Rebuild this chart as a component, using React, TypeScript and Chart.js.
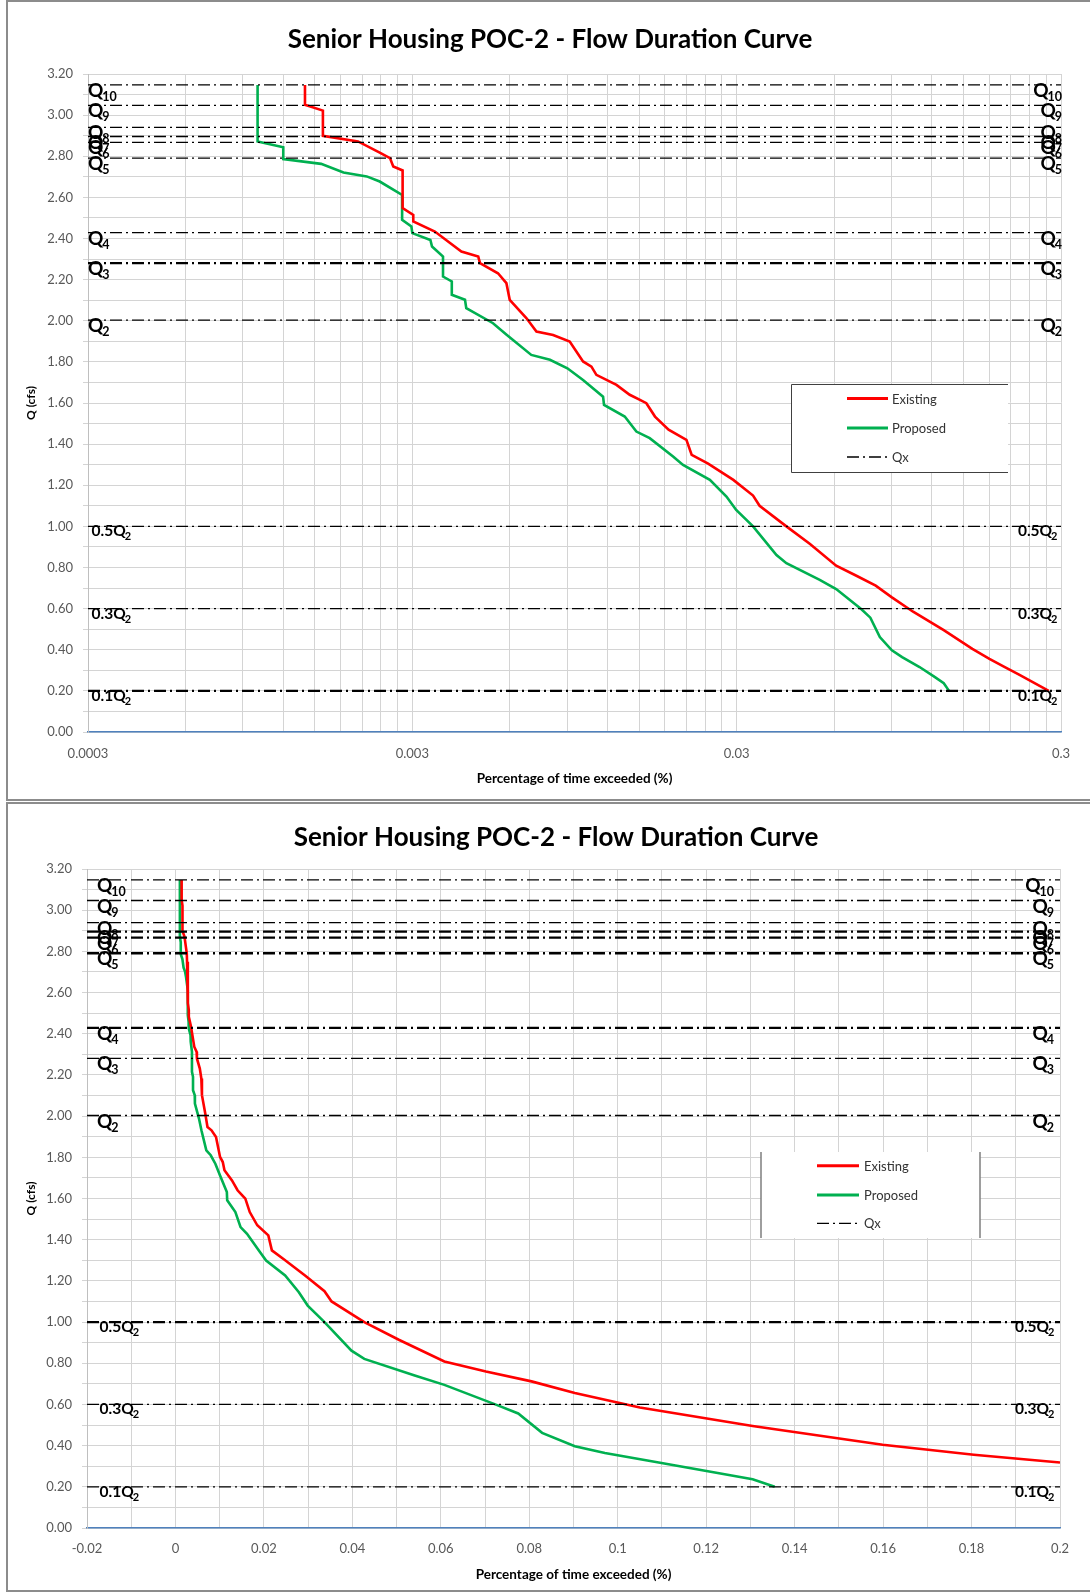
import React, { useEffect, useRef } from 'react';
import { Chart, registerables } from 'chart.js';

Chart.register(...registerables);

// ---------------- DATA ----------------
const titleText = 'Senior Housing POC-2 - Flow Duration Curve';
const xTitleText = 'Percentage of time exceeded (%)';
const yTitleText = 'Q (cfs)';
const legendLabels = ['Existing', 'Proposed', 'Qx'];

const existingPct = [
  0.0014, 0.0014, 0.00159, 0.00159, 0.00204, 0.00238, 0.00256, 0.00262, 0.0028, 0.0028,
  0.00302, 0.00302, 0.00352, 0.00425, 0.00479, 0.00485, 0.00551, 0.00585, 0.00599, 0.00674,
  0.00724, 0.00815, 0.00917, 0.01008, 0.0107, 0.01108, 0.01278, 0.01404, 0.0151, 0.0158,
  0.0168, 0.0185, 0.021, 0.0218, 0.0245, 0.0293, 0.0337, 0.0353, 0.0427, 0.0505,
  0.0608, 0.0702, 0.0805, 0.0903, 0.105, 0.1305, 0.1599, 0.1805, 0.2, 0.2235, 0.275,
];
const existingQ = [
  3.147, 3.05, 3.022, 2.899, 2.872, 2.818, 2.791, 2.75, 2.731, 2.548,
  2.515, 2.483, 2.434, 2.337, 2.312, 2.28, 2.231, 2.183, 2.102, 2.013,
  1.947, 1.931, 1.899, 1.802, 1.777, 1.737, 1.688, 1.64, 1.615, 1.599,
  1.534, 1.47, 1.421, 1.348, 1.305, 1.226, 1.15, 1.1, 1.0, 0.914,
  0.809, 0.76, 0.712, 0.655, 0.585, 0.495, 0.404, 0.356, 0.318, 0.278, 0.2,
];

const proposedPct = [
  0.001, 0.001, 0.0012, 0.0012, 0.00157, 0.00184, 0.00217, 0.00238, 0.00279, 0.00279,
  0.00298, 0.003, 0.00341, 0.00345, 0.00373, 0.00373, 0.00397, 0.00397, 0.00436, 0.0044,
  0.00532, 0.00587, 0.00698, 0.00797, 0.00902, 0.01008, 0.01162, 0.0117, 0.01355, 0.01472,
  0.01618, 0.0191, 0.0205, 0.0248, 0.0279, 0.0299, 0.0337, 0.0398, 0.0427, 0.0541,
  0.0608, 0.0726, 0.0775, 0.0829, 0.0903, 0.0971, 0.1099, 0.1226, 0.1305, 0.1355,
];
const proposedQ = [
  3.147, 2.872, 2.844, 2.786, 2.763, 2.721, 2.702, 2.677, 2.612, 2.491,
  2.458, 2.426, 2.393, 2.361, 2.312, 2.215, 2.191, 2.126, 2.102, 2.061,
  1.988, 1.931, 1.834, 1.81, 1.769, 1.712, 1.631, 1.591, 1.534, 1.461,
  1.429, 1.34, 1.299, 1.226, 1.145, 1.08, 1.0, 0.861, 0.821, 0.74,
  0.695, 0.598, 0.556, 0.462, 0.397, 0.364, 0.316, 0.267, 0.237, 0.2,
];

const refQ = [3.147, 3.047, 2.94, 2.896, 2.867, 2.791, 2.429, 2.28, 2.003, 1.0, 0.6, 0.2];
const refMain = ['Q', 'Q', 'Q', 'Q', 'Q', 'Q', 'Q', 'Q', 'Q', '0.5Q', '0.3Q', '0.1Q'];
const refSub = ['10', '9', '8', '7', '6', '5', '4', '3', '2', '2', '2', '2'];

const logMajorTicks = [0.0003, 0.003, 0.03, 0.3];
const logMinorMultipliers = [2, 3, 4, 5, 6, 7, 8, 9];
const linXMin = -0.02;
const linXMax = 0.2;
const linXStep = 0.01;
const yMin = 0;
const yMax = 3.2;
const yStep = 0.1;

// ---------------- STYLE / LAYOUT ----------------
const RED = '#ff0000';
const GREEN = '#00b050';
const GRID = '#d4d4d4';
const TICK_COLOR = '#595959';
const FONT = 'Lato, "Open Sans", sans-serif';

type Spec = {
  kind: 'log' | 'lin';
  height: number;
  top: number;
  area: { left: number; right: number; top: number; bottom: number };
  titleX: number;
  titleY: number;
  xTitleY: number;
  qLeft: number;
  qRight: number;
  smallLeft: number;
  smallRight: number;
  thick: number[];
  xLabelPad: number;
  legend: { x0: number; x1: number; y0: number; y1: number; lx0: number; lx1: number; tx: number; ys: number[]; full: boolean };
};

const TOP_SPEC: Spec = {
  kind: 'log',
  height: 800,
  top: 0,
  area: { left: 88, right: 1061, top: 74, bottom: 732 },
  titleX: 550,
  titleY: 40,
  xTitleY: 779,
  qLeft: 88,
  qRight: 1062,
  smallLeft: 91.5,
  smallRight: 1057.5,
  thick: [7, 11],
  xLabelPad: 14,
  legend: { x0: 791, x1: 1008, y0: 384, y1: 472, lx0: 847, lx1: 888, tx: 892, ys: [398.5, 428, 457], full: true },
};

const BOTTOM_SPEC: Spec = {
  kind: 'lin',
  height: 792,
  top: 802,
  area: { left: 87, right: 1060, top: 67, bottom: 726 },
  titleX: 556,
  titleY: 36,
  xTitleY: 773,
  qLeft: 97,
  qRight: 1054,
  smallLeft: 99.5,
  smallRight: 1054.5,
  thick: [3, 4, 5, 6, 9],
  xLabelPad: 13,
  legend: { x0: 761, x1: 980, y0: 350, y1: 436, lx0: 817, lx1: 859, tx: 864, ys: [363.7, 393, 421.3], full: false },
};

const DASH_DOT = [12, 4, 2, 4];

function pts(xs: number[], ys: number[]) {
  return xs.map((x, i) => ({ x, y: ys[i] }));
}

function logTickValues() {
  const out: number[] = [];
  for (let i = 0; i < logMajorTicks.length - 1; i++) {
    out.push(logMajorTicks[i]);
    logMinorMultipliers.forEach((k) => out.push(logMajorTicks[i] * k));
  }
  out.push(logMajorTicks[logMajorTicks.length - 1]);
  return out;
}

function overlayPlugin(spec: Spec) {
  return {
    id: 'overlay_' + spec.kind,
    afterDatasetsDraw(chart: any) {
      const ctx = chart.ctx;
      const ys = chart.scales.y;
      ctx.save();
      ctx.fillStyle = '#000';
      ctx.textBaseline = 'alphabetic';
      ctx.textAlign = 'left';
      refQ.forEach((q, i) => {
        const py = ys.getPixelForValue(q);
        const small = refMain[i] !== 'Q';
        const mainFont = small ? `bold 15.5px ${FONT}` : `bold 19px ${FONT}`;
        const subFont = small ? `bold 11px ${FONT}` : `bold 12.5px ${FONT}`;
        const base = py + (small ? 10 : 12);
        ctx.font = mainFont;
        const wm = ctx.measureText(refMain[i]).width;
        ctx.font = subFont;
        const ws = ctx.measureText(refSub[i]).width;
        // left
        let x0 = small ? spec.smallLeft : spec.qLeft;
        ctx.font = mainFont;
        ctx.fillText(refMain[i], x0, base);
        ctx.font = subFont;
        ctx.fillText(refSub[i], x0 + wm - 1, base + 4);
        // right
        x0 = (small ? spec.smallRight : spec.qRight) - (wm + ws - 1);
        ctx.font = mainFont;
        ctx.fillText(refMain[i], x0, base);
        ctx.font = subFont;
        ctx.fillText(refSub[i], x0 + wm - 1, base + 4);
      });
      ctx.restore();
    },
    afterDraw(chart: any) {
      const ctx = chart.ctx;
      const a = chart.chartArea;
      ctx.save();
      // title
      ctx.fillStyle = '#000';
      ctx.font = `bold 26px ${FONT}`;
      ctx.textAlign = 'center';
      ctx.textBaseline = 'middle';
      ctx.fillText(titleText, spec.titleX, spec.titleY);
      // x title
      ctx.font = `bold 13.5px ${FONT}`;
      ctx.fillText(xTitleText, (a.left + a.right) / 2, spec.xTitleY);
      // y title
      ctx.save();
      ctx.translate(31.5, (a.top + a.bottom) / 2);
      ctx.rotate(-Math.PI / 2);
      ctx.font = `bold 12px ${FONT}`;
      ctx.fillText(yTitleText, 0, 0);
      ctx.restore();
      // legend
      const L = spec.legend;
      ctx.fillStyle = '#fff';
      ctx.fillRect(L.x0, L.y0, L.x1 - L.x0, L.y1 - L.y0);
      ctx.lineWidth = 1;
      if (L.full) {
        ctx.strokeStyle = '#404040';
        ctx.beginPath();
        ctx.moveTo(L.x1, L.y0 + 0.5);
        ctx.lineTo(L.x0 + 0.5, L.y0 + 0.5);
        ctx.lineTo(L.x0 + 0.5, L.y1 + 0.5);
        ctx.lineTo(L.x1, L.y1 + 0.5);
        ctx.stroke();
      } else {
        ctx.strokeStyle = '#7f7f7f';
        ctx.lineWidth = 1.5;
        ctx.beginPath();
        ctx.moveTo(L.x0, L.y0);
        ctx.lineTo(L.x0, L.y1);
        ctx.moveTo(L.x1, L.y0);
        ctx.lineTo(L.x1, L.y1);
        ctx.stroke();
      }
      const colors = [RED, GREEN, '#000'];
      legendLabels.forEach((lab, i) => {
        const y = L.ys[i];
        ctx.strokeStyle = colors[i];
        ctx.lineWidth = i === 2 ? 1.3 : 3;
        ctx.setLineDash(i === 2 ? DASH_DOT : []);
        ctx.beginPath();
        ctx.moveTo(L.lx0, y);
        ctx.lineTo(L.lx1, y);
        ctx.stroke();
        ctx.setLineDash([]);
        ctx.fillStyle = '#333';
        ctx.font = `13px ${FONT}`;
        ctx.textAlign = 'left';
        ctx.textBaseline = 'middle';
        ctx.fillText(lab, L.tx, y + 1);
      });
      ctx.restore();
    },
  };
}

function buildConfig(spec: Spec): any {
  const xMin = spec.kind === 'log' ? logMajorTicks[0] : linXMin;
  const xMax = spec.kind === 'log' ? logMajorTicks[logMajorTicks.length - 1] : linXMax;
  const refDatasets = refQ.map((q, i) => ({
    label: 'ref' + i,
    data: [
      { x: xMin, y: q },
      { x: xMax, y: q },
    ],
    borderColor: '#000',
    borderWidth: spec.thick.includes(i) ? 2.3 : 1.3,
    borderDash: DASH_DOT,
    pointRadius: 0,
    tension: 0,
    fill: false,
  }));
  const curves = [
    {
      label: legendLabels[0],
      data: pts(existingPct, existingQ),
      borderColor: RED,
      borderWidth: 2.6,
      pointRadius: 0,
      tension: 0,
      fill: false,
    },
    {
      label: legendLabels[1],
      data: pts(proposedPct, proposedQ),
      borderColor: GREEN,
      borderWidth: 2.6,
      pointRadius: 0,
      tension: 0,
      fill: false,
    },
  ];
  const tickFont = { family: FONT, size: 13 };
  const logTicks = logTickValues();
  const xScale: any =
    spec.kind === 'log'
      ? {
          type: 'logarithmic',
          min: xMin,
          max: xMax,
          afterBuildTicks: (s: any) => {
            s.ticks = logTicks.map((v) => ({ value: v }));
          },
          ticks: {
            autoSkip: false,
            maxRotation: 0,
            minRotation: 0,
            padding: spec.xLabelPad,
            color: TICK_COLOR,
            font: tickFont,
            callback: (v: number) => {
              const m = logMajorTicks.find((t) => Math.abs(v / t - 1) < 1e-6);
              return m === undefined ? '' : String(m);
            },
          },
          grid: { color: GRID, drawTicks: false, lineWidth: 1 },
          border: { color: '#4f81bd', width: 1.5 },
          afterFit: (s: any) => {
            s.height = spec.height - spec.area.bottom;
          },
        }
      : {
          type: 'linear',
          min: xMin,
          max: xMax,
          ticks: {
            stepSize: linXStep,
            autoSkip: false,
            maxRotation: 0,
            minRotation: 0,
            padding: spec.xLabelPad,
            color: TICK_COLOR,
            font: tickFont,
            callback: (v: number, i: number) => (i % 2 === 0 ? String(Number(v.toFixed(2))) : ''),
          },
          grid: { color: GRID, drawTicks: false, lineWidth: 1 },
          border: { color: '#4f81bd', width: 1.5 },
          afterFit: (s: any) => {
            s.height = spec.height - spec.area.bottom;
          },
        };
  return {
    type: 'line',
    data: { datasets: [...refDatasets, ...curves] },
    options: {
      animation: false,
      responsive: false,
      maintainAspectRatio: false,
      parsing: true,
      layout: { padding: { left: 0, top: spec.area.top, right: 1090 - spec.area.right, bottom: 0 } },
      plugins: {
        legend: { display: false },
        tooltip: { enabled: false },
        title: { display: false },
      },
      scales: {
        x: xScale,
        y: {
          type: 'linear',
          min: yMin,
          max: yMax,
          ticks: {
            stepSize: yStep,
            autoSkip: false,
            padding: 10,
            color: TICK_COLOR,
            font: tickFont,
            callback: (v: number, i: number) => (i % 2 === 0 ? v.toFixed(2) : ''),
          },
          grid: { color: GRID, tickLength: 5, drawTicks: true, lineWidth: 1 },
          border: { color: '#bfbfbf', width: 1 },
          afterFit: (s: any) => {
            s.width = spec.area.left;
          },
        },
      },
    },
    plugins: [overlayPlugin(spec)],
  };
}

function FlowChart({ spec }: { spec: Spec }) {
  const ref = useRef<HTMLCanvasElement | null>(null);
  useEffect(() => {
    if (!ref.current) return;
    const chart = new Chart(ref.current, buildConfig(spec));
    return () => chart.destroy();
  }, [spec]);
  return (
    <canvas
      ref={ref}
      width={1090}
      height={spec.height}
      style={{ position: 'absolute', left: 0, top: spec.top, width: 1090, height: spec.height, display: 'block' }}
    />
  );
}

export default function App() {
  return (
    <div
      style={{
        position: 'absolute',
        left: 0,
        top: 0,
        width: 1090,
        height: 1594,
        overflow: 'hidden',
        background: '#fff',
      }}
    >
      <div
        style={{
          position: 'absolute',
          left: 6,
          top: 0,
          width: 1110,
          height: 801,
          boxSizing: 'border-box',
          border: '2px solid #8c8c8c',
          background: '#fff',
        }}
      />
      <div
        style={{
          position: 'absolute',
          left: 6,
          top: 802,
          width: 1110,
          height: 790,
          boxSizing: 'border-box',
          border: '2px solid #8c8c8c',
          background: '#fff',
        }}
      />
      <FlowChart spec={TOP_SPEC} />
      <FlowChart spec={BOTTOM_SPEC} />
    </div>
  );
}
